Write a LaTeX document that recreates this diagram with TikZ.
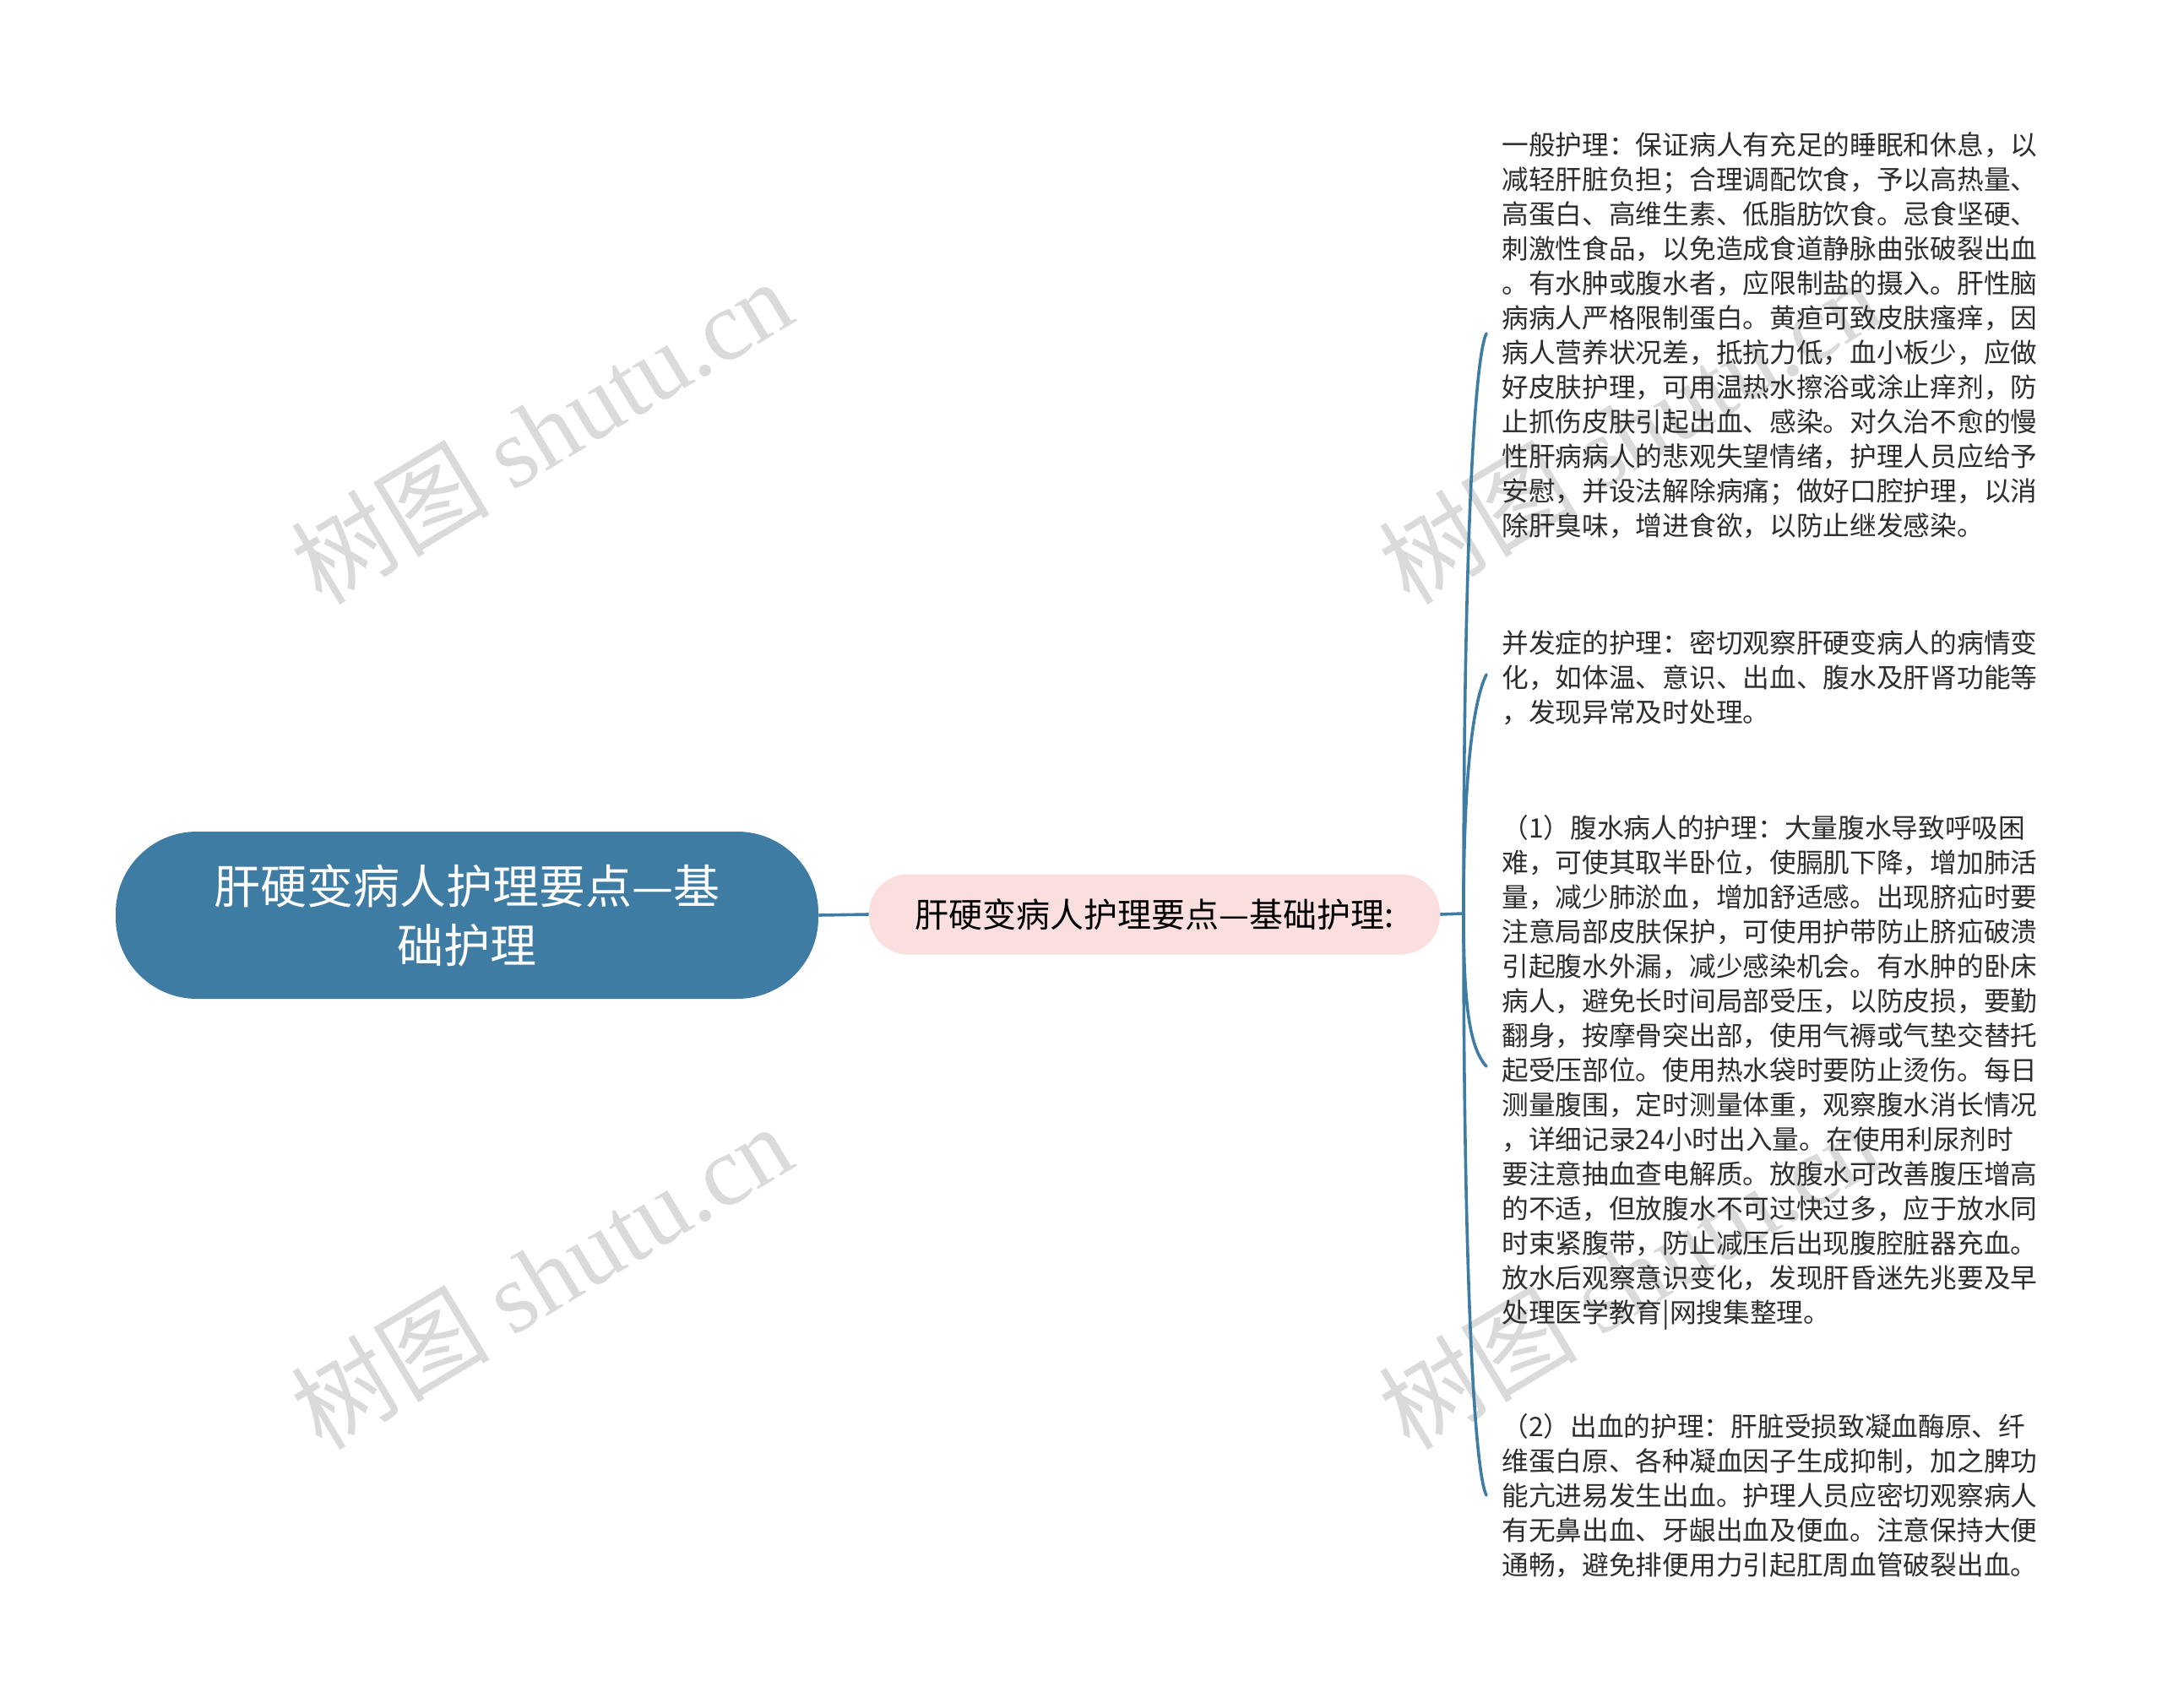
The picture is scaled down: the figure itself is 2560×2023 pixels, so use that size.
\documentclass[tikz,border=0pt]{standalone}
\usepackage{fontspec}
\setmainfont{Noto Sans CJK SC}
\newfontfamily\wmlatin{Liberation Serif}
\usetikzlibrary{calc}
\definecolor{rootblue}{RGB}{62,124,163}
\definecolor{rosefill}{RGB}{251,222,222}
\definecolor{leaftext}{RGB}{45,45,45}
\definecolor{wmgray}{RGB}{218,218,218}

\begin{document}
\begin{tikzpicture}[x=0.5pt, y=-0.5pt,
  link/.style={draw=rootblue, line width=1.8pt},
  leaf/.style={anchor=west, align=left, text=leaftext, inner sep=0pt, font=\fontsize{15.85pt}{20.5pt}\selectfont},
  wmark/.style={text=wmgray, rotate=31, inner sep=0pt, font=\fontsize{59pt}{64pt}\selectfont}]
\useasboundingbox (0,0) rectangle (2560,2023);
% watermarks
\foreach \wx/\wy [count=\i] in {641/510, 641/1511, 1929/510, 1929/1511}
  \node[wmark] (wm\i) at (\wx,\wy) {树图 {\wmlatin shutu.cn}};
% main nodes
\node (root) [fill=rootblue, text=white, rounded corners=48pt, minimum width=416pt, minimum height=99pt, align=center, font=\fontsize{27.5pt}{35pt}\selectfont] at (553,1084) {肝硬变病人护理要点—基\\础护理};
\node (basic) [fill=rosefill, text=black, rounded corners=23pt, minimum width=338pt, minimum height=47.5pt, font=\fontsize{20pt}{24pt}\selectfont] at (1367,1083) {肝硬变病人护理要点—基础护理:};
\coordinate (hub) at (1733,1082);
% leaves
\node[leaf] (general) at (1778,397) {一般护理：保证病人有充足的睡眠和休息，以\\减轻肝脏负担；合理调配饮食，予以高热量、\\高蛋白、高维生素、低脂肪饮食。忌食坚硬、\\刺激性食品，以免造成食道静脉曲张破裂出血\\。有水肿或腹水者，应限制盐的摄入。肝性脑\\病病人严格限制蛋白。黄疸可致皮肤瘙痒，因\\病人营养状况差，抵抗力低，血小板少，应做\\好皮肤护理，可用温热水擦浴或涂止痒剂，防\\止抓伤皮肤引起出血、感染。对久治不愈的慢\\性肝病病人的悲观失望情绪，护理人员应给予\\安慰，并设法解除病痛；做好口腔护理，以消\\除肝臭味，增进食欲，以防止继发感染。};
\node[leaf] (complication) at (1778,803) {并发症的护理：密切观察肝硬变病人的病情变\\化，如体温、意识、出血、腹水及肝肾功能等\\，发现异常及时处理。};
\node[leaf] (ascites) at (1778,1270) {（1）腹水病人的护理：大量腹水导致呼吸困\\难，可使其取半卧位，使膈肌下降，增加肺活\\量，减少肺淤血，增加舒适感。出现脐疝时要\\注意局部皮肤保护，可使用护带防止脐疝破溃\\引起腹水外漏，减少感染机会。有水肿的卧床\\病人，避免长时间局部受压，以防皮损，要勤\\翻身，按摩骨突出部，使用气褥或气垫交替托\\起受压部位。使用热水袋时要防止烫伤。每日\\测量腹围，定时测量体重，观察腹水消长情况\\，详细记录24小时出入量。在使用利尿剂时\\要注意抽血查电解质。放腹水可改善腹压增高\\的不适，但放腹水不可过快过多，应于放水同\\时束紧腹带，防止减压后出现腹腔脏器充血。\\放水后观察意识变化，发现肝昏迷先兆要及早\\处理医学教育|网搜集整理。};
\node[leaf] (bleeding) at (1778,1772) {（2）出血的护理：肝脏受损致凝血酶原、纤\\维蛋白原、各种凝血因子生成抑制，加之脾功\\能亢进易发生出血。护理人员应密切观察病人\\有无鼻出血、牙龈出血及便血。注意保持大便\\通畅，避免排便用力引起肛周血管破裂出血。};
% connectors
\draw[link] (root.east) -- (basic.west);
\draw[link] (basic.east) -- (hub);
\coordinate (t1) at ($(general.west)+(-18,-2)$);
\coordinate (t2) at ($(complication.west)+(-18,-4)$);
\coordinate (t3) at ($(ascites.west)+(-18,-7)$);
\coordinate (t4) at ($(bleeding.west)+(-18,-1)$);
\draw[link, line cap=round] (hub) .. controls (1733,669) and ($(t1)+(-15,30)$) .. (t1);
\draw[link, line cap=round] (hub) .. controls (1733,912) and ($(t2)+(-15,30)$) .. (t2);
\draw[link, line cap=round] (hub) .. controls (1733,1190) and ($(t3)+(-20,-22)$) .. (t3);
\draw[link, line cap=round] (hub) .. controls (1733,1495) and ($(t4)+(-15,-30)$) .. (t4);
\end{tikzpicture}
\end{document}
